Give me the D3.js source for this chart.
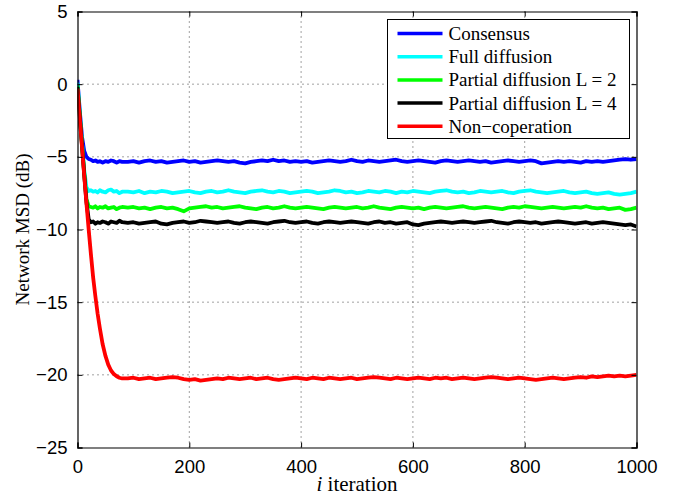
<!DOCTYPE html>
<html>
<head>
<meta charset="utf-8">
<script src="https://cdn.jsdelivr.net/npm/d3@7"></script>
<style>
  body { margin: 0; background: #fff; }
  .tick text { font-family: "Liberation Sans", Arial, sans-serif; font-size: 18.5px; }
  .lbl { font-family: "Liberation Serif", "Times New Roman", serif; font-size: 19px; }
</style>
</head>
<body>
<svg width="673" height="497"></svg>
<script>
// iteration grid (x values)
var iters = [0,4,8,12,16,20,24,28,32,36,40,45,50,55,60,65,70,75,80,
  90,100,110,120,130,140,150,160,170,180,190,200,210,220,230,240,250,260,270,280,
  290,300,310,320,330,340,350,360,370,380,390,400,410,420,430,440,450,460,470,480,
  490,500,510,520,530,540,550,560,570,580,590,600,610,620,630,640,650,660,670,680,
  690,700,710,720,730,740,750,760,770,780,790,800,810,820,830,840,850,860,870,880,
  890,900,910,920,930,940,950,960,970,980,990,1000];

var consensus = [0.3,-1.8,-3.6,-4.6,-5.0,-5.15,-5.2,-5.3,-5.25,-5.35,-5.3,-5.4,-5.3,-5.35,-5.25,-5.3,-5.4,-5.3,-5.35,
  -5.35,-5.3,-5.4,-5.3,-5.25,-5.35,-5.3,-5.4,-5.35,-5.3,
  -5.25,-5.35,-5.3,-5.4,-5.35,-5.3,-5.25,-5.3,-5.35,-5.3,
  -5.4,-5.45,-5.35,-5.3,-5.25,-5.3,-5.2,-5.3,-5.25,-5.35,
  -5.3,-5.35,-5.3,-5.4,-5.35,-5.3,-5.25,-5.3,-5.35,-5.3,
  -5.2,-5.3,-5.35,-5.25,-5.3,-5.35,-5.3,-5.25,-5.2,-5.3,
  -5.35,-5.3,-5.25,-5.3,-5.35,-5.4,-5.3,-5.25,-5.3,-5.35,
  -5.3,-5.25,-5.3,-5.35,-5.3,-5.4,-5.35,-5.3,-5.25,-5.3,
  -5.35,-5.3,-5.25,-5.3,-5.45,-5.4,-5.35,-5.3,-5.35,-5.3,
  -5.35,-5.4,-5.3,-5.35,-5.3,-5.35,-5.3,-5.25,-5.2,-5.15,
  -5.2,-5.15];

var fullDiff = [0.1,-2.0,-4.0,-5.9,-7.1,-7.35,-7.3,-7.4,-7.35,-7.45,-7.3,-7.4,-7.45,-7.3,-7.25,-7.4,-7.35,-7.5,-7.4,
  -7.4,-7.45,-7.35,-7.5,-7.4,-7.45,-7.35,-7.4,-7.5,-7.45,
  -7.4,-7.35,-7.45,-7.5,-7.4,-7.35,-7.45,-7.4,-7.3,-7.4,
  -7.45,-7.5,-7.4,-7.35,-7.3,-7.4,-7.45,-7.35,-7.4,-7.5,
  -7.45,-7.4,-7.35,-7.4,-7.5,-7.45,-7.4,-7.3,-7.35,-7.45,
  -7.4,-7.5,-7.45,-7.35,-7.4,-7.45,-7.35,-7.4,-7.5,-7.4,
  -7.45,-7.35,-7.4,-7.45,-7.5,-7.4,-7.35,-7.3,-7.4,-7.45,
  -7.4,-7.5,-7.45,-7.35,-7.4,-7.45,-7.4,-7.35,-7.45,-7.5,
  -7.4,-7.35,-7.3,-7.4,-7.45,-7.5,-7.45,-7.4,-7.35,-7.45,
  -7.5,-7.45,-7.4,-7.5,-7.55,-7.5,-7.45,-7.55,-7.6,-7.55,
  -7.5,-7.4];

var partialL2 = [-0.1,-2.1,-4.1,-6.1,-7.9,-8.4,-8.45,-8.5,-8.4,-8.55,-8.45,-8.5,-8.4,-8.55,-8.5,-8.45,-8.6,-8.5,-8.45,
  -8.5,-8.45,-8.55,-8.5,-8.6,-8.5,-8.45,-8.55,-8.5,-8.6,
  -8.75,-8.55,-8.5,-8.45,-8.4,-8.5,-8.45,-8.55,-8.5,-8.45,
  -8.4,-8.5,-8.55,-8.6,-8.5,-8.45,-8.55,-8.5,-8.4,-8.5,
  -8.55,-8.5,-8.45,-8.5,-8.55,-8.6,-8.5,-8.45,-8.5,-8.55,
  -8.5,-8.45,-8.55,-8.5,-8.4,-8.5,-8.55,-8.6,-8.5,-8.45,
  -8.5,-8.55,-8.5,-8.6,-8.5,-8.45,-8.5,-8.55,-8.5,-8.45,
  -8.4,-8.5,-8.55,-8.5,-8.45,-8.5,-8.55,-8.6,-8.5,-8.45,
  -8.5,-8.4,-8.45,-8.5,-8.55,-8.5,-8.45,-8.5,-8.55,-8.5,
  -8.45,-8.5,-8.4,-8.5,-8.55,-8.5,-8.6,-8.55,-8.5,-8.65,
  -8.6,-8.5];

var partialL4 = [-0.2,-2.2,-4.2,-6.2,-8.1,-9.3,-9.5,-9.45,-9.6,-9.5,-9.55,-9.45,-9.5,-9.6,-9.45,-9.5,-9.55,-9.4,-9.5,
  -9.55,-9.5,-9.6,-9.55,-9.5,-9.45,-9.6,-9.65,-9.55,-9.5,
  -9.45,-9.55,-9.5,-9.4,-9.45,-9.5,-9.55,-9.5,-9.45,-9.55,
  -9.6,-9.5,-9.45,-9.5,-9.55,-9.6,-9.5,-9.45,-9.4,-9.5,
  -9.55,-9.5,-9.45,-9.55,-9.6,-9.5,-9.45,-9.5,-9.55,-9.5,
  -9.45,-9.5,-9.55,-9.6,-9.5,-9.45,-9.55,-9.5,-9.6,-9.55,
  -9.5,-9.65,-9.7,-9.6,-9.55,-9.5,-9.45,-9.5,-9.55,-9.5,
  -9.45,-9.5,-9.55,-9.5,-9.45,-9.4,-9.5,-9.55,-9.6,-9.5,
  -9.45,-9.5,-9.55,-9.5,-9.6,-9.55,-9.5,-9.45,-9.5,-9.55,
  -9.6,-9.55,-9.5,-9.6,-9.55,-9.5,-9.55,-9.6,-9.65,-9.7,
  -9.65,-9.8];

var nonCoop = [-0.3,-2.3,-4.3,-6.3,-8.2,-10.0,-11.7,-13.3,-14.6,-15.8,-16.8,-17.9,-18.7,-19.3,-19.7,-19.95,-20.1,-20.2,-20.25,
  -20.25,-20.2,-20.3,-20.25,-20.2,-20.3,-20.25,-20.2,-20.15,-20.2,
  -20.3,-20.35,-20.3,-20.4,-20.35,-20.3,-20.25,-20.3,-20.2,-20.25,
  -20.3,-20.25,-20.2,-20.3,-20.25,-20.2,-20.3,-20.35,-20.3,-20.25,
  -20.2,-20.25,-20.3,-20.2,-20.25,-20.3,-20.2,-20.25,-20.3,-20.25,
  -20.2,-20.3,-20.25,-20.2,-20.15,-20.2,-20.25,-20.3,-20.2,-20.25,
  -20.3,-20.25,-20.2,-20.25,-20.3,-20.2,-20.25,-20.2,-20.3,-20.25,
  -20.2,-20.25,-20.3,-20.25,-20.2,-20.15,-20.2,-20.25,-20.3,-20.25,
  -20.2,-20.25,-20.3,-20.35,-20.3,-20.25,-20.2,-20.25,-20.3,-20.25,
  -20.2,-20.15,-20.2,-20.1,-20.15,-20.1,-20.05,-20.1,-20.05,-20.1,
  -20.05,-20.0];

var seriesNames = ["Consensus", "Full diffusion", "Partial diffusion L = 2", "Partial diffusion L = 4", "Non\u2212coperation"];
var seriesColors = ["#0000ff", "#00ffff", "#00ff00", "#000000", "#ff0000"];
var seriesData = [consensus, fullDiff, partialL2, partialL4, nonCoop];
var xTicks = [0, 200, 400, 600, 800, 1000];
var yTicks = [-25, -20, -15, -10, -5, 0, 5];

(function () {
    var svg = d3.select("svg"),
        pL = 77.5, pR = 636.5, pT = 11.5, pB = 447.5;

    var x = d3.scaleLinear().domain([0, 1000]).range([pL, pR]);
    var y = d3.scaleLinear().domain([-25, 5]).range([pB, pT]);

    var fmt = function (d) { return d < 0 ? "\u2212" + Math.abs(d) : "" + d; };

    // dotted grid
    var grid = svg.append("g").attr("stroke", "#444").attr("stroke-width", 1)
        .attr("stroke-dasharray", "1,4");
    grid.selectAll(".gx").data(xTicks.slice(1, -1)).enter().append("line")
        .attr("x1", d => x(d)).attr("x2", d => x(d)).attr("y1", pT).attr("y2", pB);
    grid.selectAll(".gy").data(yTicks.slice(1, -1)).enter().append("line")
        .attr("y1", d => y(d)).attr("y2", d => y(d)).attr("x1", pL).attr("x2", pR);

    svg.append("clipPath").attr("id", "clip").append("rect")
        .attr("x", pL).attr("y", pT).attr("width", pR - pL).attr("height", pB - pT);

    var line = d3.line()
        .x(function (d, i) { return x(iters[i]); })
        .y(function (d) { return y(d); });

    svg.append("g").attr("clip-path", "url(#clip)")
        .selectAll("path").data(seriesData).enter().append("path")
        .attr("d", line)
        .attr("fill", "none")
        .attr("stroke", (d, i) => seriesColors[i])
        .attr("stroke-width", 3.8)
        .attr("stroke-linejoin", "round");

    // axes (ticks inside, box all round)
    svg.append("g").attr("transform", "translate(0," + pB + ")")
        .call(d3.axisBottom(x).tickValues(xTicks).tickSize(-5).tickPadding(12).tickFormat(fmt));
    svg.append("g").attr("transform", "translate(0," + pT + ")")
        .call(d3.axisTop(x).tickValues(xTicks).tickSize(-5).tickFormat(""));
    svg.append("g").attr("transform", "translate(" + pL + ",0)")
        .call(d3.axisLeft(y).tickValues(yTicks).tickSize(-5).tickPadding(10).tickFormat(fmt));
    svg.append("g").attr("transform", "translate(" + pR + ",0)")
        .call(d3.axisRight(y).tickValues(yTicks).tickSize(-5).tickFormat(""));
    svg.selectAll(".domain").attr("stroke", "#000").attr("stroke-width", 1.2);
    svg.selectAll(".tick line").attr("stroke", "#000");
    svg.selectAll(".tick text").attr("fill", "#000");

    // axis labels
    svg.append("text").attr("class", "lbl")
        .attr("transform", "translate(29," + ((pT + pB) / 2) + ") rotate(-90)")
        .attr("text-anchor", "middle").text("Network MSD (dB)");
    var xl = svg.append("text").attr("class", "lbl").style("font-size", "21px")
        .attr("x", (pL + pR) / 2).attr("y", 491).attr("text-anchor", "middle");
    xl.append("tspan").attr("font-style", "italic").text("i");
    xl.append("tspan").text(" iteration");

    // legend
    var lg = svg.append("g").attr("transform", "translate(387.5,19.5)");
    lg.append("rect").attr("width", 242).attr("height", 119)
        .attr("fill", "#fff").attr("stroke", "#000").attr("stroke-width", 1);
    var items = lg.selectAll(".it").data(seriesNames).enter().append("g")
        .attr("transform", (d, i) => "translate(0," + (14 + i * 23.2) + ")");
    items.append("line").attr("x1", 10).attr("x2", 55)
        .attr("stroke", (d, i) => seriesColors[i]).attr("stroke-width", 3.5);
    items.append("text").attr("class", "lbl").attr("x", 61).attr("y", 6.5).text(d => d);
})();
</script>
</body>
</html>
